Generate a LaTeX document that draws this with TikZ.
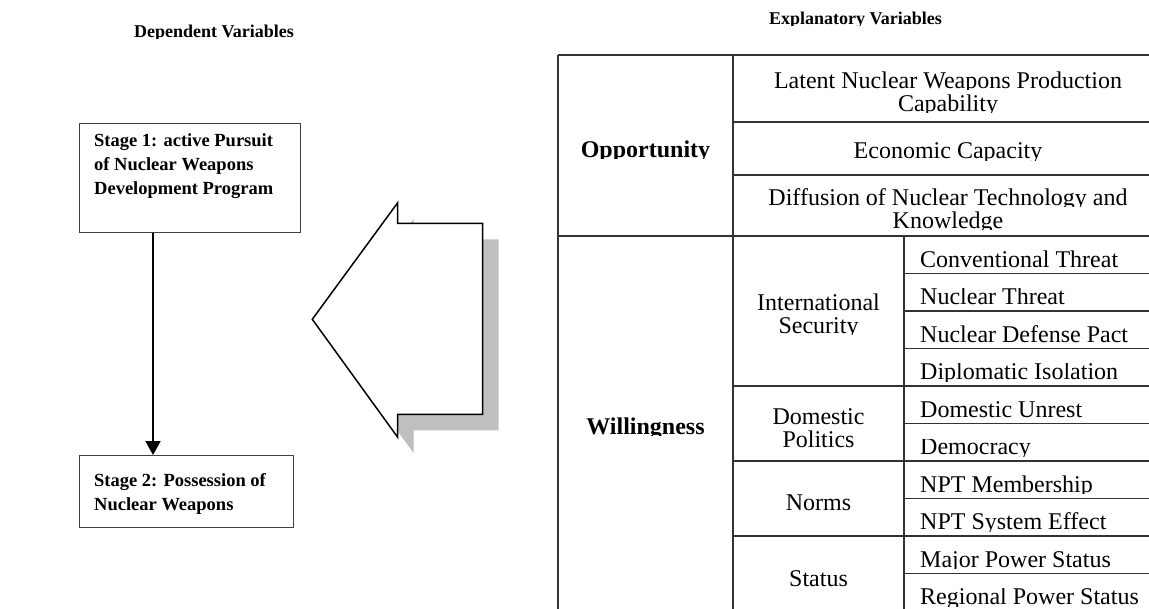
\documentclass[tikz,border=0pt]{standalone}
\usepackage{fontspec}
\usepackage{adjustbox}
\setmainfont{Liberation Serif}
\usetikzlibrary{arrows.meta}
% table and heading lines are cut just below the baseline
\newcommand\cutdesc[1]{\clipbox{0pt {\depth-1.6pt} 0pt 0pt}{#1}}
\begin{document}
\begin{tikzpicture}[x=1pt,y=-1pt,
  txt/.style={font=\fontsize{24}{23}\selectfont, inner sep=0pt, align=center},
  btxt/.style={font=\fontsize{18.5}{24}\selectfont\bfseries, inner sep=0pt, align=left},
  hdr/.style={font=\fontsize{18}{20}\selectfont\bfseries, inner sep=0pt},
  stagebox/.style={draw=black!75, line width=1.2pt, inner sep=0pt, anchor=north west},
  grid/.style={draw=black!80, line width=1.3pt},
  conn/.style={line width=2pt, -{Triangle[width=15pt,length=14pt]}},
  bigarrow/.style={draw=black, line width=1.5pt, fill=white, line join=miter},
  shade/.style={fill=black!25}]
\useasboundingbox (0,0) rectangle (1149,608);
\clip (0,0) rectangle (1149,608);

% column headings
\node[hdr, anchor=base] (dephead) at (214,37) {\cutdesc{Dependent Variables}};
\node[hdr, anchor=base] (exphead) at (855.5,24) {\cutdesc{Explanatory Variables}};

% the two stages (anchor=base sits on the last line of a node)
\node[stagebox, minimum width=221pt, minimum height=109pt] (s1) at (79,123) {};
\node[btxt, anchor=base west] (s1t) at (94,194)
  {Stage 1: active Pursuit\\of Nuclear Weapons\\Development Program};
\node[stagebox, minimum width=214pt, minimum height=72pt] (s2) at (79,455) {};
\node[btxt, anchor=base west] (s2t) at (94,510)
  {Stage 2: Possession of\\Nuclear Weapons};
\draw[conn] ([xshift=74pt]s1.south west) -- ([xshift=74pt]s2.north west);

% block arrow pointing left, with its drop shadow
\begin{scope}[shift={(16,16)}]
  \path[shade] (312.3,319.3) -- (397.7,202.7) -- (397.7,223.3) -- (482.7,223.3)
    -- (482.7,414.3) -- (397.7,414.3) -- (397.7,437.3) -- cycle;
\end{scope}
\path[bigarrow] (312.3,319.3) -- (397.7,202.7) -- (397.7,223.3) -- (482.7,223.3)
    -- (482.7,414.3) -- (397.7,414.3) -- (397.7,437.3) -- cycle;

% table rules
\draw[grid] (558,55) -- (1163,55);
\draw[grid] (733,122) -- (1163,122);
\draw[grid] (733,175) -- (1163,175);
\draw[grid] (558,236) -- (1163,236);
\foreach \y in {273.5,311,348.5,423.5,498.5,573.5}
  \draw[grid] (904,\y) -- (1163,\y);
\foreach \y in {386,461,536}
  \draw[grid] (733,\y) -- (1163,\y);
\draw[grid] (558,611) -- (1163,611);
\draw[grid] (558,55) -- (558,611);
\draw[grid] (733,55) -- (733,611);
\draw[grid] (904,236) -- (904,611);
\draw[grid] (1163,55) -- (1163,611);

% opportunity block
\node[txt, font=\fontsize{24}{23}\selectfont\bfseries, anchor=base] (opp) at (645.5,157) {\cutdesc{Opportunity}};
\node[txt, anchor=base] (latent) at (948,111) {\cutdesc{Latent Nuclear Weapons Production}\\\cutdesc{Capability}};
\node[txt, anchor=base] (econ) at (948,158.5) {\cutdesc{Economic Capacity}};
\node[txt, anchor=base] (diff) at (948,228) {\cutdesc{Diffusion of Nuclear Technology and}\\\cutdesc{Knowledge}};

% willingness block
\node[txt, font=\fontsize{24}{23}\selectfont\bfseries, anchor=base] (will) at (645.5,434) {\cutdesc{Willingness}};
\node[txt, anchor=base] (intl) at (818.5,333) {\cutdesc{International}\\\cutdesc{Security}};
\node[txt, anchor=base] (dom) at (818.5,447) {\cutdesc{Domestic}\\\cutdesc{Politics}};
\node[txt, anchor=base] (norms) at (818.5,510) {\cutdesc{Norms}};
\node[txt, anchor=base] (status) at (818.5,586) {\cutdesc{Status}};

\node[txt, anchor=base west] (v1) at (920,267.3) {\cutdesc{Conventional Threat}};
\node[txt, anchor=base west] (v2) at (920,304.8) {\cutdesc{Nuclear Threat}};
\node[txt, anchor=base west] (v3) at (920,342.3) {\cutdesc{Nuclear Defense Pact}};
\node[txt, anchor=base west] (v4) at (920,379.8) {\cutdesc{Diplomatic Isolation}};
\node[txt, anchor=base west] (v5) at (920,417.3) {\cutdesc{Domestic Unrest}};
\node[txt, anchor=base west] (v6) at (920,454.8) {\cutdesc{Democracy}};
\node[txt, anchor=base west] (v7) at (920,492.3) {\cutdesc{NPT Membership}};
\node[txt, anchor=base west] (v8) at (920,529.8) {\cutdesc{NPT System Effect}};
\node[txt, anchor=base west] (v9) at (920,567.3) {\cutdesc{Major Power Status}};
\node[txt, anchor=base west] (v10) at (920,604.8) {\cutdesc{Regional Power Status}};
\end{tikzpicture}
\end{document}
